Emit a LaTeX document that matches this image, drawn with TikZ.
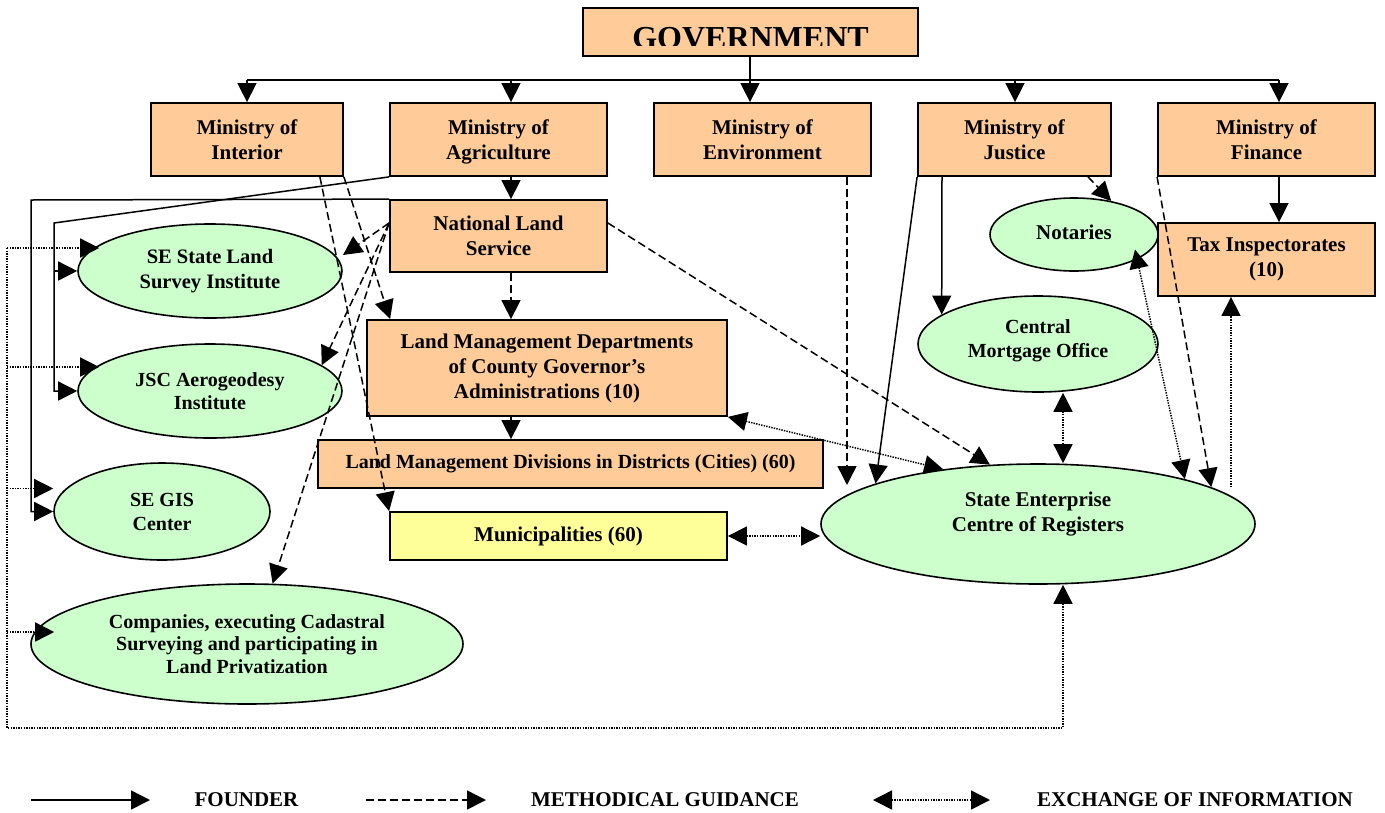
\documentclass[tikz,border=0pt]{standalone}
\usepackage{fontspec}
\setmainfont{Liberation Serif}
\usetikzlibrary{arrows.meta,shapes.geometric,calc}
\definecolor{peach}{HTML}{FFCC99}
\definecolor{ellgreen}{HTML}{CCFFCC}
\definecolor{paleyellow}{HTML}{FFFF99}
\tikzset{
  txt/.style={font=\fontsize{21}{25}\selectfont\bfseries, align=center, inner sep=0pt},
  smalltxt/.style={font=\fontsize{20}{23.5}\selectfont\bfseries},
  box/.style={txt, draw, line width=1.8pt, fill=peach, rectangle},
  oval/.style={txt, draw, line width=1.6pt, fill=ellgreen, ellipse},
  arrowend/.style={-{Triangle[length=19pt,width=19pt]}},
  found/.style={line width=1.5pt, arrowend},
  plainline/.style={line width=1.5pt},
  guide/.style={line width=1.5pt, dash pattern=on 8pt off 4pt, arrowend},
  dotline/.style={line width=1.5pt, dash pattern=on 1.4pt off 1.2pt},
  info/.style={dotline, arrows={Triangle[length=19pt,width=19pt]-Triangle[length=19pt,width=19pt]}},
}
\begin{document}
\begin{tikzpicture}[x=1pt,y=-1pt]
\useasboundingbox (0,0) rectangle (1385,812);

% ---------- boxes ----------
\node[box, minimum width=335pt, minimum height=48pt] (gov) at (750.5,32) {};
\begin{scope}
  % the title is set low in its box and cut off near the bottom edge
  \clip ([yshift=-1pt]gov.north west) rectangle ([yshift=11pt]gov.south east);
  \node[font=\fontsize{32}{36}\selectfont\bfseries, anchor=base, inner sep=0pt] (govtext) at (750.5,48.5) {GOVERNMENT};
\end{scope}

\node[box, minimum width=192pt, minimum height=73pt] (mint) at (247,139.5) {Ministry of\\Interior};
\node[box, text depth=0pt, minimum width=217pt, minimum height=73pt] (magr) at (498.5,139.5) {Ministry of\\Agriculture};
\node[box, minimum width=217pt, minimum height=73pt] (menv) at (762.5,139.5) {Ministry of\\Environment};
\node[box, minimum width=193pt, minimum height=73pt] (mjus) at (1014.5,139.5) {Ministry of\\Justice};
\node[box, minimum width=217pt, minimum height=73pt] (mfin) at (1266.5,139.5) {Ministry of\\Finance};

\node[box, minimum width=217pt, minimum height=72pt] (nls) at (498.5,236) {National Land\\Service};
\node[box, minimum width=360pt, minimum height=96pt] (lmd) at (547,368) {Land Management Departments\\of County Governor’s\\Administrations (10)};
\node[box, smalltxt, minimum width=505pt, minimum height=48pt] (lmdiv) at (570.5,464) {Land Management Divisions in Districts (Cities) (60)};
\node[box, fill=paleyellow, minimum width=337pt, minimum height=48pt] (mun) at (558.5,536) {Municipalities (60)};
\node[box, minimum width=217pt, minimum height=73pt] (tax) at (1266.5,259.5) {Tax Inspectorates\\(10)};

% ---------- ellipses ----------
\node[oval, font=\fontsize{20.5}{25}\selectfont\bfseries, minimum width=264pt, minimum height=94pt] (ssl) at (210,271) {SE State Land\\Survey Institute};
\node[oval, font=\fontsize{20}{23.5}\selectfont\bfseries, minimum width=264pt, minimum height=94pt] (jsc) at (210,391) {JSC Aerogeodesy\\Institute};
\node[oval, font=\fontsize{20}{24}\selectfont\bfseries, minimum width=216pt, minimum height=97pt] (gis) at (162,511.5) {SE GIS\\Center};
\node[oval, font=\fontsize{20}{22.5}\selectfont\bfseries, minimum width=432pt, minimum height=120pt] (comp) at (247,644) {Companies, executing Cadastral\\Surveying and participating in\\Land Privatization};
\node[oval, minimum width=168pt, minimum height=73pt] (not) at (1074,234.5) {};
\node[txt] (nottext) at (1074,232) {Notaries};
\node[oval, font=\fontsize{20}{24}\selectfont\bfseries, minimum width=240pt, minimum height=96pt] (cmo) at (1038,344) {};
\node[txt, font=\fontsize{20}{24}\selectfont\bfseries] (cmotext) at (1038,341) {Central\\Mortgage Office};
\node[oval, minimum width=434pt, minimum height=120pt] (cor) at (1038,524) {};
\node[txt] (cortext) at (1038,514.5) {State Enterprise\\Centre of Registers};

% ---------- founder links ----------
\coordinate (b1) at (247,80);
\coordinate (b2) at (511,80);
\coordinate (b3) at (750,80);
\coordinate (b4) at (1015,80);
\coordinate (b5) at (1279,80);
\draw[plainline] (b1) -- (b5);
\draw[found] (b3 |- gov.south) -- (b3 |- menv.north);
\draw[found] (b1) -- (b1 |- mint.north);
\draw[found] (b2) -- (b2 |- magr.north);
\draw[found] (b4) -- (b4 |- mjus.north);
\draw[found] (b5) -- (b5 |- mfin.north);

\draw[found] (b2 |- magr.south) -- (b2 |- nls.north);
\draw[found] (b2 |- lmd.south) -- (b2 |- lmdiv.north);
\draw[found] (b5 |- mfin.south) -- (b5 |- tax.north);

\coordinate (fa) at (54,223);
\draw[found] (magr.south west) -- (fa) -- (fa |- jsc.west) -- (jsc.west);
\draw[found] (fa |- ssl.west) -- (ssl.west);

\coordinate (fb) at (31,200);
\draw[found] (nls.north west) -- (fb) -- (fb |- gis.west) -- (gis.west);

\draw[found] ([xshift=-72.5pt]mjus.south) -- (cmo.163.2);
\draw[found] (mjus.south west) -- (cor.166.9);

% ---------- methodical guidance ----------
\draw[guide] (b2 |- nls.south) -- (b2 |- lmd.north);
\draw[guide] ([xshift=-24pt]mint.south east) -- (mun.north west);
\draw[guide] (mint.south east) -- ([xshift=24pt]lmd.north west);

\coordinate (envtip) at ([xshift=-191pt,yshift=39pt]cor.center);
\draw[guide] (envtip |- menv.south) -- (envtip);

\coordinate (nlsfan) at ([yshift=13pt]nls.west);
\draw[guide] (nlsfan) -- ([xshift=133pt,yshift=16pt]ssl.center);
\draw[guide] (nlsfan) -- (jsc.13.4);
\draw[guide] (nlsfan) -- (comp.67.4);
\draw[guide] ([yshift=13pt]nls.east) -- (cor.129.4);

\draw[guide] ([xshift=73.5pt]mjus.south) -- (not.42.5);
\draw[guide] (mfin.south west) -- (cor.12.9);

% ---------- exchange of information ----------
\draw[info] (lmd.south east) -- (cor.150.6);
\draw[info] (mun.east) -- ([yshift=-12pt]cor.west);
\draw[info] ([xshift=25pt]cmo.south) -- ([xshift=25pt]cor.north);
\draw[info] ([xshift=61pt,yshift=-15pt]not.center) -- (cor.17.4);

\coordinate (taxend) at ([xshift=193pt,yshift=-24pt]cor.north);
\draw[dotline, arrowend] (taxend) -- (taxend |- tax.south);

\coordinate (lb) at (7,728);
\coordinate (corin) at ([xshift=25pt]cor.south);
\coordinate (sslin) at ([xshift=22pt,yshift=23pt]ssl.west);
\coordinate (jscin) at ([xshift=22pt,yshift=24pt]jsc.west);
\coordinate (gisin) at ([yshift=23pt]gis.west);
\coordinate (compin) at ([xshift=24pt,yshift=12pt]comp.west);
\draw[dotline, arrowend] (sslin -| lb) -- (lb) -- (lb -| corin) -- (corin);
\draw[dotline, arrowend] (sslin -| lb) -- (sslin);
\draw[dotline, arrowend] (jscin -| lb) -- (jscin);
\draw[dotline, arrowend] (gisin -| lb) -- (gisin);
\draw[dotline, arrowend] (compin -| lb) -- (compin);

% ---------- legend ----------
\coordinate (lega) at (31,800);
\coordinate (legb) at (150,800);
\coordinate (legc) at (366,800);
\coordinate (legd) at (486,800);
\coordinate (lege) at (873,800);
\coordinate (legf) at (990,800);
\draw[found] (lega) -- (legb);
\node[txt] (legfounder) at (246.5,800) {FOUNDER};
\draw[guide] (legc) -- (legd);
\node[txt] (legguide) at (665,800) {METHODICAL GUIDANCE};
\draw[info] (lege) -- (legf);
\node[txt] (leginfo) at (1195,800) {EXCHANGE OF INFORMATION};
\end{tikzpicture}
\end{document}
